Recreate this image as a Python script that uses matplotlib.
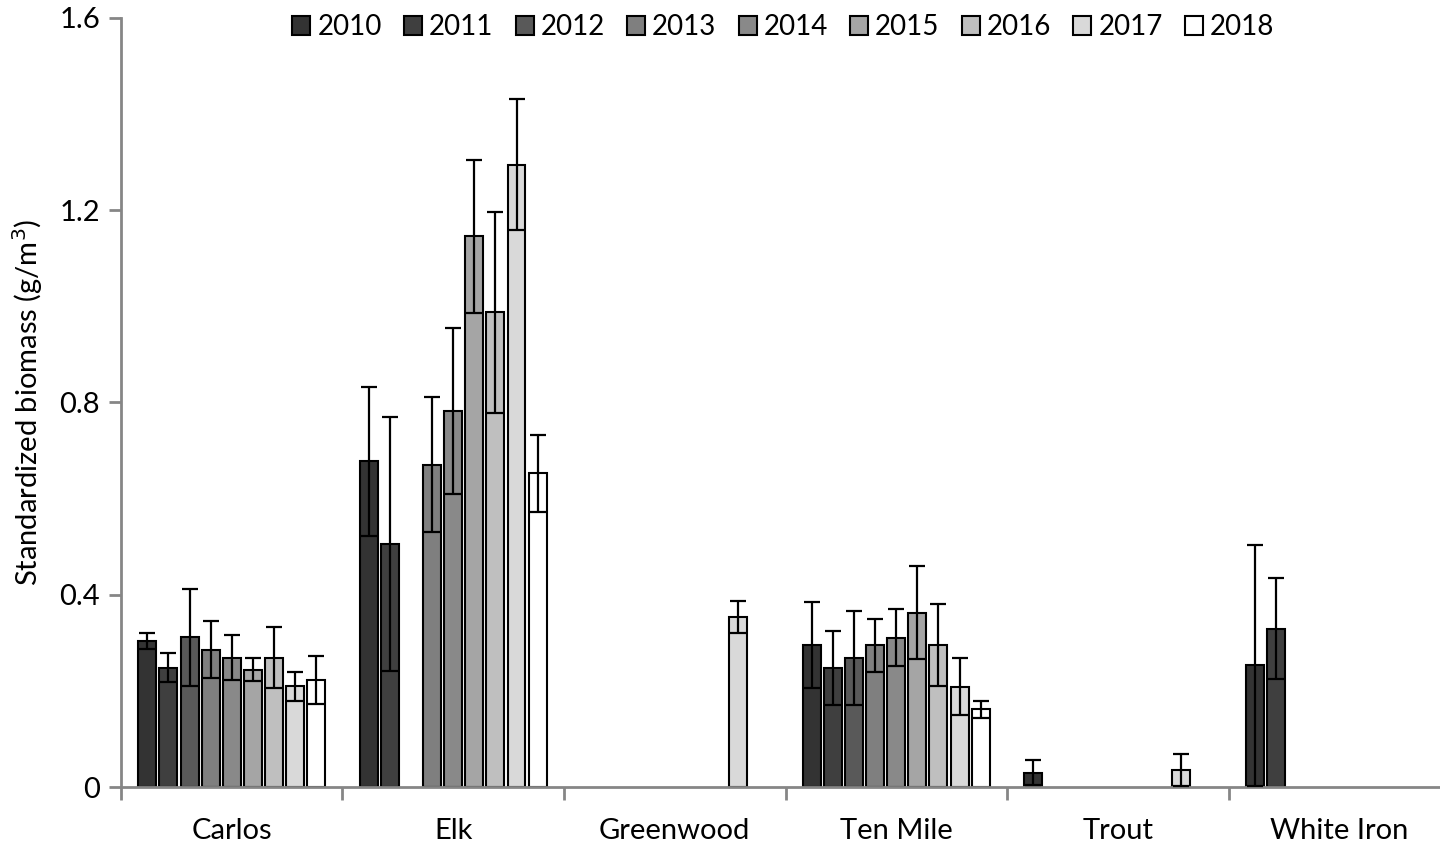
import numpy as np
import matplotlib
matplotlib.use("Agg")
import matplotlib.pyplot as plt

plt.rcParams['font.family'] = ['Lato', 'DejaVu Sans']

lakes = ["Carlos", "Elk", "Greenwood", "Ten Mile", "Trout", "White Iron"]
years = ["2010", "2011", "2012", "2013", "2014", "2015", "2016", "2017", "2018"]
colors = ["#333333", "#3f3f3f", "#595959", "#7f7f7f", "#898989",
          "#a5a5a5", "#bfbfbf", "#d9d9d9", "#ffffff"]

# mean biomass per lake (rows) and year (columns); None = not sampled
biomass = [
    [0.304, 0.248, 0.312, 0.286, 0.269, 0.244, 0.269, 0.210, 0.223],
    [0.678, 0.505, None, 0.671, 0.782, 1.146, 0.988, 1.295, 0.653],
    [None, None, None, None, None, None, None, 0.354, None],
    [0.295, 0.248, 0.269, 0.295, 0.311, 0.363, 0.295, 0.209, 0.162],
    [0.030, None, None, None, None, None, None, 0.035, None],
    [0.253, 0.329, None, None, None, None, None, None, None],
]
# error bar half-widths
errors = [
    [0.017, 0.030, 0.101, 0.060, 0.047, 0.024, 0.064, 0.030, 0.050],
    [0.155, 0.264, None, 0.140, 0.173, 0.159, 0.209, 0.136, 0.080],
    [None, None, None, None, None, None, None, 0.034, None],
    [0.089, 0.077, 0.098, 0.055, 0.060, 0.097, 0.085, 0.060, 0.018],
    [0.026, None, None, None, None, None, None, 0.033, None],
    [0.250, 0.105, None, None, None, None, None, None, None],
]

fig = plt.figure(figsize=(14.4, 8.47), dpi=100)
ax = fig.add_axes([0.084, 0.0708, 0.923, 0.908])

slot = 0.0952
width = 0.081
x = np.arange(len(lakes))

for j, year in enumerate(years):
    xs, hs, es = [], [], []
    for i in range(len(lakes)):
        if biomass[i][j] is not None:
            xs.append(x[i] + (j - 4) * slot)
            hs.append(biomass[i][j])
            es.append(errors[i][j])
    ax.bar(xs, hs, width=width, color=colors[j], edgecolor="black",
           linewidth=1.5, label=year, zorder=2)
    ax.errorbar(xs, hs, yerr=es, fmt="none", ecolor="black", elinewidth=1.6,
                capsize=6, capthick=1.6, zorder=3)

ax.set_xlim(-0.5, 5.5)
ax.set_ylim(0, 1.6)
ax.set_yticks([0, 0.4, 0.8, 1.2, 1.6])
ax.set_yticklabels(["0", "0.4", "0.8", "1.2", "1.6"])
ax.set_xticks(x)
ax.set_xticklabels(lakes)
ax.set_xticks(np.arange(-0.5, 5.6, 1), minor=True)
ax.tick_params(axis="x", which="major", length=0, pad=22, labelsize=21)
ax.tick_params(axis="x", which="minor", length=9, width=2, color="#868686")
ax.tick_params(axis="y", length=9, width=2, color="#868686", labelsize=21, pad=6)

for side in ["top", "right"]:
    ax.spines[side].set_visible(False)
for side in ["left", "bottom"]:
    ax.spines[side].set_color("#868686")
    ax.spines[side].set_linewidth(2)

ax.set_ylabel("Standardized biomass (g/m$^3$)", fontsize=21, labelpad=10)

fig.legend(loc="center", bbox_to_anchor=(0.544, 0.968), ncol=9, frameon=False,
           fontsize=20, handlelength=0.65, handleheight=0.65, handletextpad=0.25,
           columnspacing=0.8, borderpad=0)

fig.savefig("out.png", dpi=100)
